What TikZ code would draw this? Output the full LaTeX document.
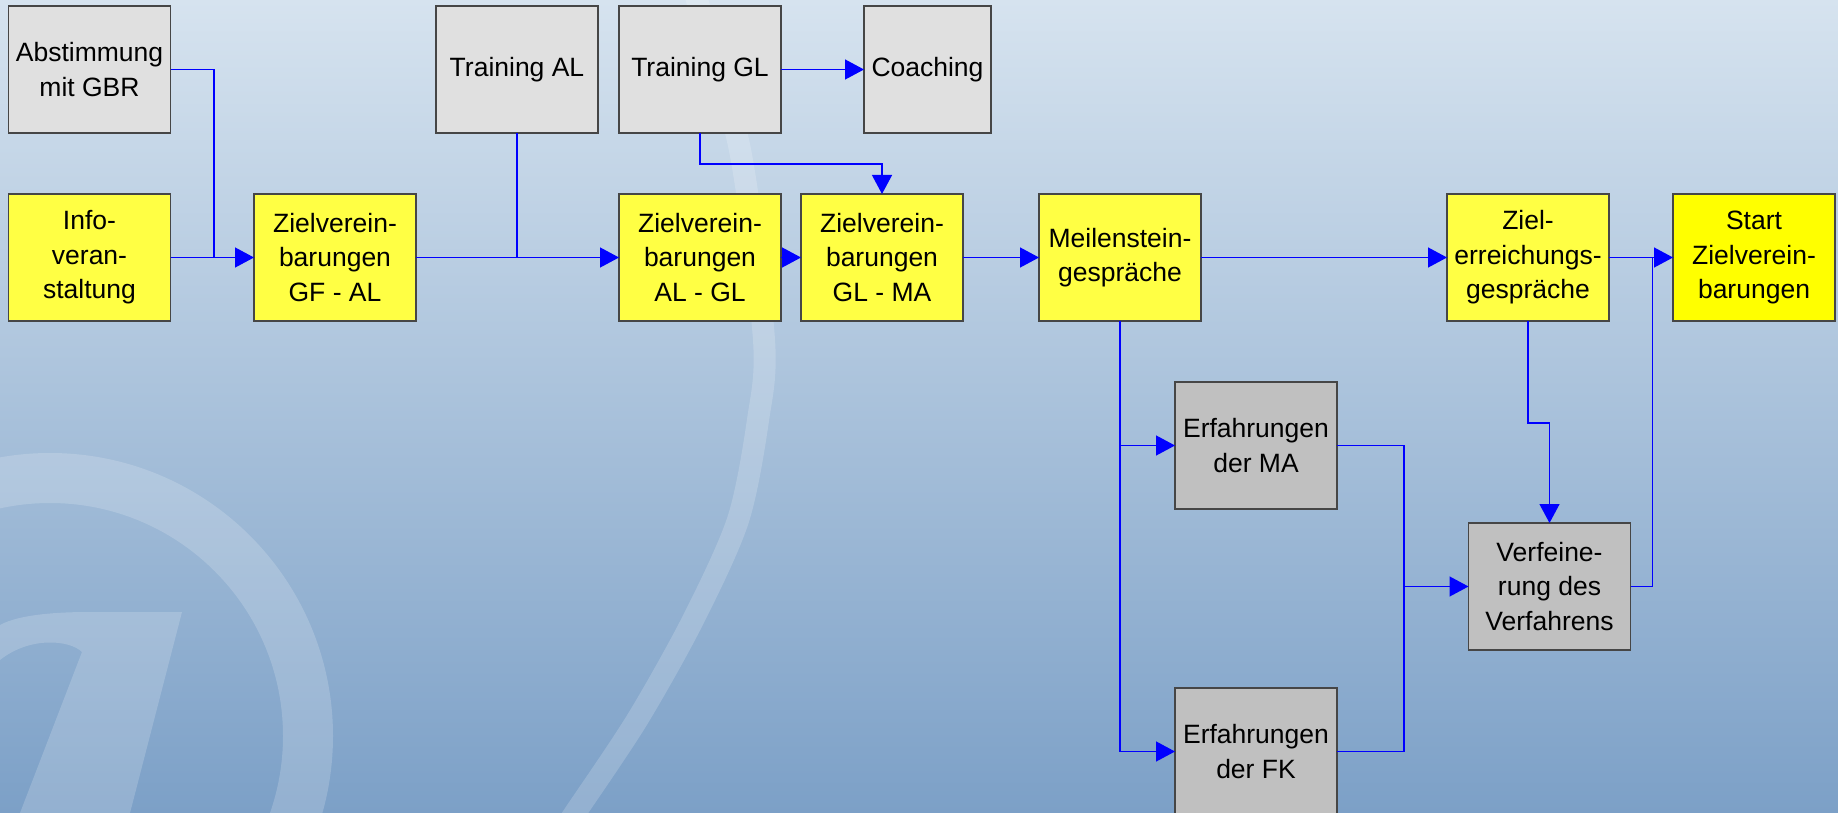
\documentclass[tikz,border=0pt]{standalone}
\usepackage{fontspec}
\setmainfont{Liberation Sans}
\usetikzlibrary{arrows.meta}
\definecolor{bgtop}{RGB}{214,227,239}
\definecolor{bgmid}{RGB}{165,192,218}
\definecolor{bgbot}{RGB}{124,160,199}
\definecolor{boxline}{RGB}{70,70,70}
\definecolor{yfill}{RGB}{255,255,68}
\definecolor{ystart}{RGB}{255,255,0}
\definecolor{glight}{RGB}{224,224,224}
\definecolor{gdark}{RGB}{192,192,192}
\definecolor{connblue}{RGB}{0,0,255}
\tikzset{
  box/.style={draw=boxline, line width=1.5pt, minimum width=162pt, minimum height=127pt,
    inner sep=0pt, outer sep=0pt, align=center, text=black,
    font=\fontsize{26.5}{34.5}\selectfont},
  ybox/.style={box, fill=yfill},
  sbox/.style={box, fill=ystart},
  lgbox/.style={box, fill=glight},
  dgbox/.style={box, fill=gdark},
  link/.style={draw=connblue, line width=1.3pt},
  arr/.style={link, -{Triangle[length=19pt,width=20pt]}},
  wmark/.style={white, opacity=0.18},
}
\begin{document}
\begin{tikzpicture}[x=1pt,y=-1pt]
\useasboundingbox (0,0) rectangle (1838,813);
\clip (0,0) rectangle (1838,813);
% background
\shade[top color=bgtop, middle color=bgmid, bottom color=bgbot] (0,0) rectangle (1838,813);
% watermark
\draw[wmark, line width=22pt] plot[smooth] coordinates {(690,-20) (697,0) (740,150) (764,340) (758,420) (738,520) (693,620) (637,720) (575,813) (560,835)};
\draw[wmark, line width=50pt] (50,736) circle (258);
\fill[wmark] (0,625) .. controls (20,614) and (60,612) .. (90,612) -- (182,612) -- (130,813)
  -- (20,813) -- (82,652) .. controls (70,640) and (30,636) .. (0,660) -- cycle;

% nodes
\node[lgbox] (abst) at (89.5,69.5) {Abstimmung\\mit GBR};
\node[lgbox] (tral) at (517,69.5) {Training AL};
\node[lgbox] (trgl) at (700,69.5) {Training GL};
\node[lgbox, minimum width=127pt] (coach) at (927.5,69.5) {Coaching};

\node[ybox] (info) at (89.5,257.5) {Info-\\veran-\\staltung};
\node[ybox] (gfal) at (335,257.5) {Zielverein-\\barungen\\GF - AL};
\node[ybox] (algl) at (700,257.5) {Zielverein-\\barungen\\AL - GL};
\node[ybox] (glma) at (882,257.5) {Zielverein-\\barungen\\GL - MA};
\node[ybox] (meil) at (1120,257.5) {Meilenstein-\\gespräche};
\node[ybox] (ziel) at (1528,257.5) {Ziel-\\erreichungs-\\gespräche};
\node[sbox] (start) at (1754,257.5) {Start\\Zielverein-\\barungen};

\node[dgbox] (erfma) at (1256,445.5) {Erfahrungen\\der MA};
\node[dgbox] (erffk) at (1256,751.5) {Erfahrungen\\der FK};
\node[dgbox] (verf) at (1549.5,586.5) {Verfeine-\\rung des\\Verfahrens};

% junction coordinates
\coordinate (j1) at (214,257.5);
\coordinate (j2) at (1404,586.5);

% connectors
\draw[link] (abst.east) -| (j1);
\draw[arr] (info.east) -- (gfal.west);
\draw[arr] (gfal.east) -- (algl.west);
\draw[link] (tral.south) -- (tral.south |- gfal.east);
\draw[arr] (algl.east) -- (glma.west);
\draw[arr] (trgl.east) -- (coach.west);
\draw[arr] (trgl.south) -- ++(0,31) -| (glma.north);
\draw[arr] (glma.east) -- (meil.west);
\draw[arr] (meil.east) -- (ziel.west);
\draw[arr] (ziel.east) -- (start.west);
\draw[arr] (meil.south) |- (erfma.west);
\draw[arr] (meil.south) |- (erffk.west);
\draw[arr] (erfma.east) -| (j2) -- (verf.west);
\draw[link] (erffk.east) -| (j2);
\draw[arr] (ziel.south) -- ++(0,102) -| (verf.north);
\draw[link] (verf.east) -- ++(22,0) |- (start.west);
\end{tikzpicture}
\end{document}
